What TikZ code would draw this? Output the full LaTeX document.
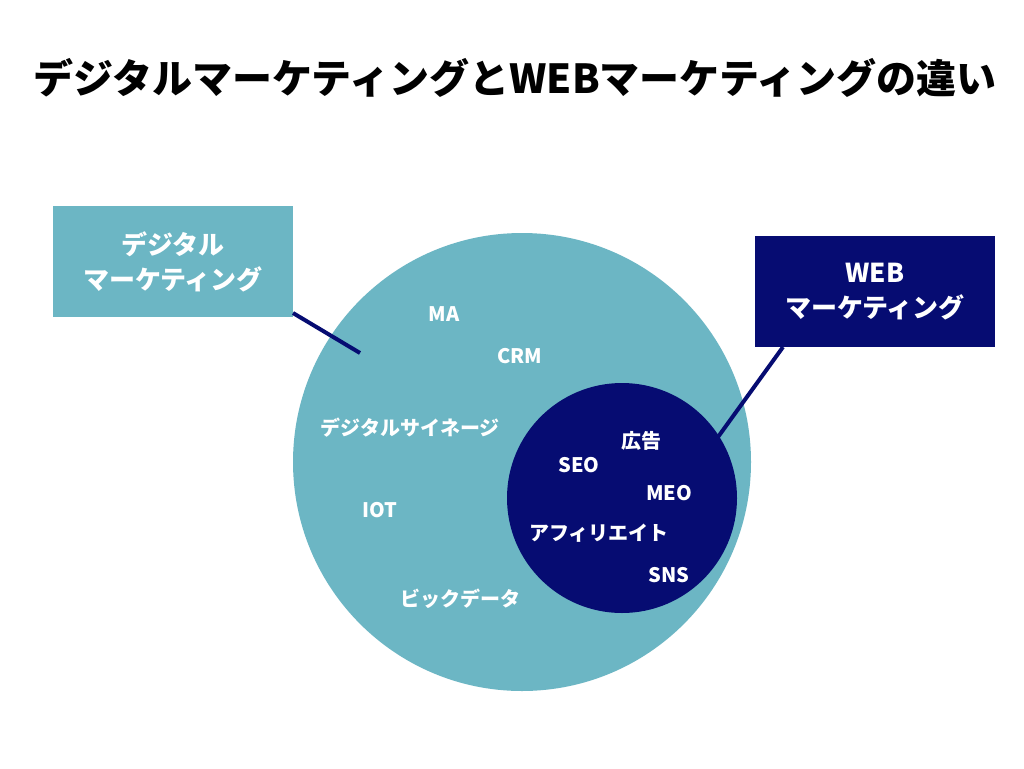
\documentclass[tikz,border=0pt]{standalone}
\usepackage{fontspec}
\setmainfont{Noto Sans CJK JP}
\definecolor{teal}{RGB}{108,182,196}
\definecolor{navy}{RGB}{6,12,114}
\begin{document}
\begin{tikzpicture}[x=1pt,y=-1pt,
  lbl/.style={text=white,font=\fontsize{20}{22}\selectfont\bfseries,inner sep=0pt},
  boxlbl/.style={text=white,font=\fontsize{26}{35}\selectfont\bfseries,align=center,inner sep=0pt},
  conn/.style={draw=navy,line width=4pt}]
\useasboundingbox (0,0) rectangle (1024,768);
\fill[white] (0,0) rectangle (1024,768);
\node[font=\fontsize{40}{42}\selectfont\bfseries,inner sep=0pt] (title) at (515,78) {デジタルマーケティングとWEBマーケティングの違い};
% circles
\fill[teal] (522,462) circle (229);
\fill[navy] (622,498) circle (115);
\coordinate (bigpt) at (360,353);
\coordinate (smallpt) at (718,437);
% boxes
\node[fill=teal,minimum width=240pt,minimum height=111pt,inner sep=0pt] (dbox) at (173,261.5) {};
\node[boxlbl] at (dbox.center) {デジタル\\マーケティング};
\node[fill=navy,minimum width=240pt,minimum height=111pt,inner sep=0pt] (wbox) at (875,291.5) {};
\node[boxlbl] at (wbox.center) {WEB\\マーケティング};
\coordinate (dfoot) at (293,313);
\coordinate (wfoot) at (783,347);
\draw[conn] (dfoot) -- (bigpt);
\draw[conn] (wfoot) -- (smallpt);
% labels outer
\node[lbl] (ma) at (444,314) {MA};
\node[lbl] (crm) at (520,356) {CRM};
\node[lbl] (sig) at (410,428) {デジタルサイネージ};
\node[lbl] (iot) at (380,510) {IOT};
\node[lbl] (big) at (460,599) {ビックデータ};
% labels inner
\node[lbl] (ad) at (641,441) {広告};
\node[lbl] (seo) at (579,465) {SEO};
\node[lbl] (meo) at (669,493) {MEO};
\node[lbl] (aff) at (599,533) {アフィリエイト};
\node[lbl] (sns) at (669,575) {SNS};
\end{tikzpicture}
\end{document}
